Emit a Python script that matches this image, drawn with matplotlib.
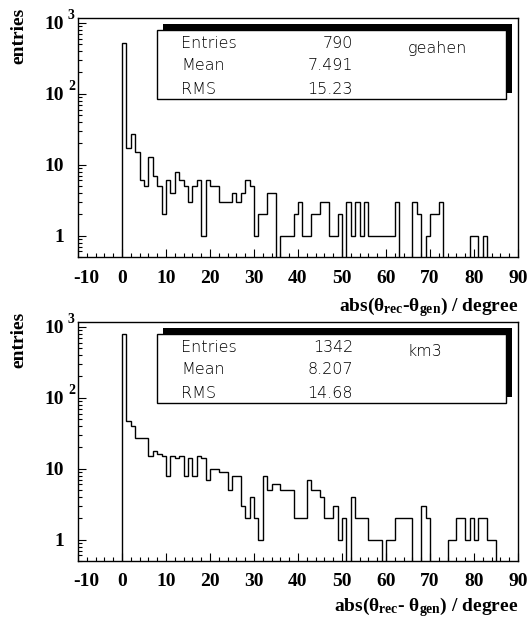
import numpy as np
import matplotlib
matplotlib.use('Agg')
import matplotlib.pyplot as plt
from matplotlib.patches import Rectangle
from matplotlib.transforms import offset_copy, ScaledTranslation
from matplotlib.ticker import FixedLocator, LogLocator, NullFormatter

W, H = 528, 621
plt.rcParams['mathtext.fontset'] = 'custom'
plt.rcParams['mathtext.rm'] = 'Liberation Serif:bold'
plt.rcParams['mathtext.it'] = 'Liberation Serif:bold'
plt.rcParams['mathtext.bf'] = 'Liberation Serif:bold'

# ---------------- data ----------------
bin_edges = list(range(0, 91))
top_counts = [520, 17, 27, 15, 6, 5, 13, 7, 5, 2,
              6, 4, 8, 6, 5, 3, 5, 6, 1, 6,
              5, 5, 3, 3, 3, 4, 3, 4, 6, 5,
              1, 2, 2, 4, 4, 0, 1, 1, 1, 2,
              3, 1, 1, 2, 2, 3, 3, 1, 1, 2,
              0, 3, 1, 3, 1, 3, 1, 1, 1, 1,
              1, 1, 3, 0, 0, 0, 3, 2, 0, 1,
              2, 2, 3, 0, 0, 0, 0, 0, 0, 1,
              1, 0, 1, 0, 0, 0, 0, 0, 0, 0]
bottom_counts = [780, 47, 40, 27, 27, 27, 15, 18, 16, 15,
                 8, 15, 14, 15, 8, 14, 8, 15, 14, 7,
                 10, 10, 9, 9, 5, 8, 8, 3, 2, 4,
                 2, 1, 8, 5, 6, 6, 5, 5, 5, 2,
                 2, 2, 7, 5, 5, 4, 2, 2, 3, 1,
                 2, 0, 4, 2, 2, 2, 1, 1, 1, 0,
                 1, 1, 2, 2, 2, 2, 0, 0, 3, 2,
                 0, 0, 0, 0, 1, 1, 2, 2, 1, 2,
                 1, 2, 2, 1, 1, 0, 0, 0, 0, 0]
x_ticks = [-10, 0, 10, 20, 30, 40, 50, 60, 70, 80, 90]
y_ticks = [1, 10, 100, 1000]
y_tick_base = ["1", "10", "10", "10"]
y_tick_exp = ["", "", "2", "3"]
stat_names = ["Entries", "Mean", "RMS"]
top_stats = ["790", "7.491", "15.23"]
bottom_stats = ["1342", "8.207", "14.68"]
top_name = "geahen"
bottom_name = "km3"
top_xlabel = r'abs($\theta_{rec}$-$\theta_{gen}$) / degree'
bottom_xlabel = r'abs($\theta_{rec}$- $\theta_{gen}$) / degree'
ylabel = "entries"

fig = plt.figure(figsize=(W / 100, H / 100), dpi=100)


def fx(x):
    return x / W


def fy(y):
    return 1 - y / H


serif = dict(family='Liberation Serif', weight='bold')
sans = dict(family='DejaVu Sans', weight='light')


def panel(top_px, counts, stats, name, xlabel, label_base):
    bottom_px = top_px + 239
    ax = fig.add_axes([fx(78), fy(bottom_px), 440 / W, 239 / H])
    ax.stairs(counts, bin_edges, baseline=0, color='black', lw=1.0)
    ax.set_yscale('log', nonpositive='clip')
    ax.set_xlim(-10, 90)
    ax.set_ylim(0.5, 1170)
    for s in ax.spines.values():
        s.set_linewidth(1.0)
    ax.set_xticks(x_ticks)
    ax.set_xticks(np.arange(-10, 91, 2), minor=True)
    ax.set_xticklabels([str(t) for t in x_ticks], fontsize=14, **serif)
    ax.yaxis.set_major_locator(FixedLocator(y_ticks))
    ax.yaxis.set_minor_locator(LogLocator(subs=np.arange(2, 10)))
    ax.yaxis.set_major_formatter(NullFormatter())
    ax.yaxis.set_minor_formatter(NullFormatter())
    ax.tick_params(which='major', direction='in', length=6, width=0.8)
    ax.tick_params(which='minor', direction='in', length=3, width=0.8)
    ax.tick_params(axis='x', which='major', pad=9)
    lbl = ax.get_xticklabels()[0]
    lbl.set_transform(lbl.get_transform() + ScaledTranslation(0.08, 0, fig.dpi_scale_trans))

    trans = ax.get_yaxis_transform()
    for v, b, e in zip(y_ticks, y_tick_base, y_tick_exp):
        t = offset_copy(trans, fig=fig, x=-14, y=-6.5, units='dots')
        ax.text(0, v, b, transform=t, ha='right', va='baseline', fontsize=14, **serif)
        if e:
            t2 = offset_copy(trans, fig=fig, x=-10, y=4, units='dots')
            ax.text(0, v, e, transform=t2, ha='left', va='baseline', fontsize=10, **serif)

    # stats box with shadow
    by0 = top_px + 12
    fig.patches.append(Rectangle((fx(163), fy(by0 + 63)), (512 - 163) / W, 69 / H,
                                 transform=fig.transFigure, facecolor='black',
                                 edgecolor='black', lw=0, zorder=5))
    fig.patches.append(Rectangle((fx(157), fy(by0 + 69)), (506 - 157) / W, 69 / H,
                                 transform=fig.transFigure, facecolor='white',
                                 edgecolor='black', lw=1.0, zorder=6))
    rows = [by0 + 13, by0 + 36, by0 + 59]
    for yy, nm, val in zip(rows, stat_names, stats):
        fig.text(fx(181), fy(yy), nm, ha='left', va='center', fontsize=11.5, zorder=7, **sans)
        fig.text(fx(353), fy(yy), val, ha='right', va='center', fontsize=11.5, zorder=7, **sans)
    fig.text(fx(408), fy(by0 + 18), name, ha='left', va='center', fontsize=11.5, zorder=7, **sans)

    fig.text(fx(518), fy(label_base), xlabel, ha='right', va='baseline', fontsize=14, **serif)
    fig.text(fx(19), fy(top_px - 10), ylabel, rotation=90, ha='center', va='top', fontsize=14, **serif)
    return ax


panel(18, top_counts, top_stats, top_name, top_xlabel, 311)
panel(322, bottom_counts, bottom_stats, bottom_name, bottom_xlabel, 611)

fig.savefig('out.png', dpi=100)
